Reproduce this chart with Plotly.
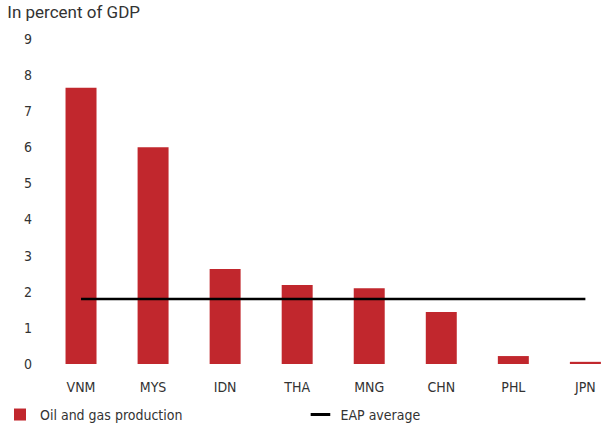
import plotly.graph_objects as go

countries = ["VNM", "MYS", "IDN", "THA", "MNG", "CHN", "PHL", "JPN"]
oil_gas = [7.65, 6.0, 2.63, 2.19, 2.1, 1.44, 0.22, 0.06]
eap_average = [1.8] * len(countries)
y_ticks = list(range(0, 10))

FONT = "Liberation Sans Narrow, DejaVu Sans Condensed, sans-serif"

fig = go.Figure()
fig.add_trace(go.Bar(
    x=countries, y=oil_gas, name="Oil and gas production",
    marker=dict(color="#C1272D", line=dict(width=0)), width=0.43,
    legend="legend",
))
fig.add_trace(go.Scatter(
    x=countries, y=eap_average, name="EAP average", mode="lines",
    line=dict(color="black", width=2.5), showlegend=False,
))
# legend-only entry with a short dash symbol
fig.add_trace(go.Scatter(
    x=[None], y=[None], name="EAP average", mode="markers",
    marker=dict(symbol="line-ew", size=14, line=dict(color="black", width=3)),
    legend="legend2",
))

tick_font = dict(family=FONT, size=14, color="#333")
legend_common = dict(orientation="h", xref="container", yref="container",
                     yanchor="middle", xanchor="left", y=0.026,
                     bgcolor="rgba(0,0,0,0)", itemwidth=30,
                     font=dict(family=FONT, size=14, color="#333"))
fig.update_layout(
    width=607, height=426,
    margin=dict(l=45, r=0, t=39, b=62, autoexpand=False),
    paper_bgcolor="white", plot_bgcolor="white",
    title=dict(text="In percent of GDP", x=0.012, xref="container", y=0.985, yref="container",
               yanchor="top", xanchor="left",
               font=dict(family="Roboto, sans-serif", size=17, color="#333")),
    xaxis=dict(range=[-0.5, 7.3], showgrid=False, showline=False, ticks="",
               ticklabelstandoff=13, tickfont=tick_font),
    yaxis=dict(range=[0, 9], tickvals=y_ticks, showgrid=False, showline=False,
               zeroline=False, ticks="", ticklabelstandoff=12, tickfont=tick_font),
    legend=dict(x=-0.038, **legend_common),
    legend2=dict(x=0.495, **legend_common),
    showlegend=True,
)
fig.write_html("out.html", config={"displayModeBar": False},
               post_script="document.body.style.margin='0';")
